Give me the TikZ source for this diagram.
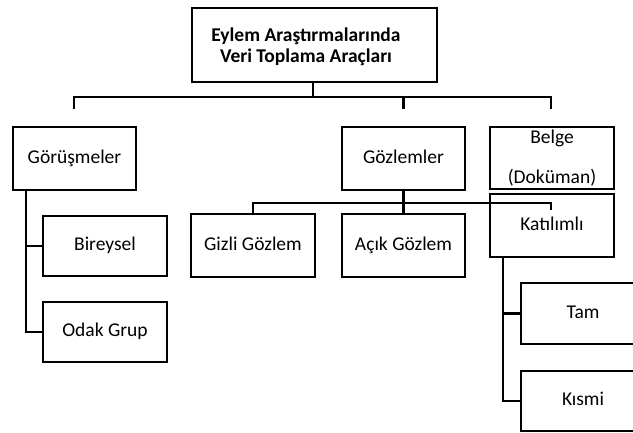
\documentclass[tikz,border=0pt]{standalone}
\usepackage{fontspec}
\setmainfont{Carlito}
\begin{document}
\begin{tikzpicture}[x=1pt,y=-1pt,
  box/.style={draw, line width=2.6pt, inner sep=0pt, align=center,
    text height=13pt, text depth=4pt,
    font=\fontsize{19.5}{21}\selectfont},
  conn/.style={line width=2.6pt}]
\clip (0,0) rectangle (633,432);
\fill[white] (0,0) rectangle (633,432);
% boxes
\node[box, minimum width=245pt, minimum height=74pt] (top) at (314.5,45) {};
\node[font=\fontsize{19.5}{21}\selectfont\bfseries, align=center] (title) at (306,47) {Eylem Araştırmalarında\\Veri Toplama Araçları};
\node[box, minimum width=123pt, minimum height=63pt] (gor) at (74.5,158.5) {Görüşmeler};
\node[box, minimum width=123pt, minimum height=63pt] (goz) at (403.5,158.5) {Gözlemler};
\node[box, minimum width=124pt, minimum height=62pt] (belge) at (552,158) {};
\node[font=\fontsize{19.5}{40}\selectfont, align=center] (belgetxt) at (552,158) {Belge\\(Doküman)};
\node[box, minimum width=124pt, minimum height=63pt] (kat) at (552,225.5) {Katılımlı};
\node[box, minimum width=124pt, minimum height=60pt] (bir) at (105,246) {Bireysel};
\node[box, minimum width=124pt, minimum height=60pt] (odak) at (105,332) {Odak Grup};
\node[box, minimum width=124pt, minimum height=63pt] (gizli) at (253,245.5) {Gizli Gözlem};
\node[box, minimum width=123pt, minimum height=63pt] (acik) at (403.5,245.5) {Açık Gözlem};
\node[box, minimum width=124pt, minimum height=61pt] (tam) at (583,313.5) {Tam};
\node[box, minimum width=124pt, minimum height=60pt] (kismi) at (583,401) {Kısmi};
% coordinates
\coordinate (bus) at (313,97);
\coordinate (busL) at (74,97);
\coordinate (busM) at (403.5,97);
\coordinate (busR) at (551,97);
\coordinate (dL) at (74,109);
\coordinate (dM) at (403.5,109);
\coordinate (dR) at (551,109);
\coordinate (gorEnd) at (26,332);
\coordinate (gorB) at (26,246);
\coordinate (gozBusL) at (253,203);
\coordinate (gozBusR) at (551,203);
\coordinate (katEnd) at (551,210);
\coordinate (katTop) at (503,257);
\coordinate (katB) at (503,313.5);
\coordinate (katEnd2) at (503,401);
% connectors
\draw[conn] (top.south -| bus) -- (bus);
\draw[conn] (dL) -- (busL) -- (busR) -- (dR);
\draw[conn] (busM) -- (dM);
\draw[conn] (gor.south -| gorB) -- (gorEnd) -- (odak.west);
\draw[conn] (gorB) -- (bir.west);
\draw[conn] (goz.south) -- (acik.north);
\draw[conn] (gizli.north) -- (gozBusL) -- (gozBusR) -- (katEnd);
\draw[conn] (katTop) -- (katEnd2) -- (kismi.west);
\draw[conn] (katB) -- (tam.west);
\end{tikzpicture}
\end{document}
